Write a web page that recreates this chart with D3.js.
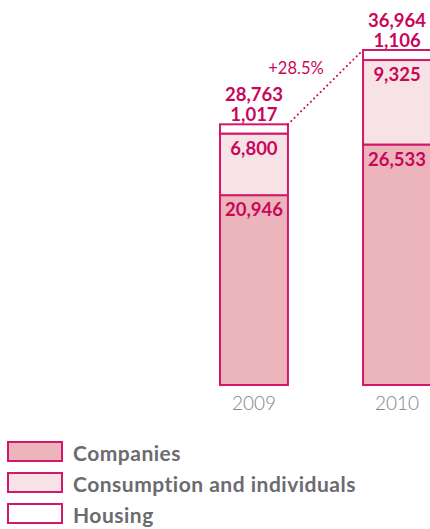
<!DOCTYPE html>
<html>
<head>
<meta charset="utf-8">
<script src="https://cdn.jsdelivr.net/npm/d3@7"></script>
<style>
  body { margin: 0; background: #fff; }
  svg { display: block; }
</style>
</head>
<body>
<div id="chart"></div>
<script>
var years = ['2009', '2010'];
var seriesNames = ['Companies', 'Consumption and individuals', 'Housing'];
var companies = [20946, 26533];
var consumption = [6800, 9325];
var housing = [1017, 1106];
var totals = [28763, 36964];
var growthLabel = '+28.5%';

var width = 430, height = 529;
var fills = ['#ecb5bc', '#f7e3e5', '#ffffff'];
var stroke = '#d3186c';
var pink = '#c8075b';

var svg = d3.select('#chart').append('svg')
  .attr('width', width)
  .attr('height', height);

var x = d3.scaleBand()
  .domain(years)
  .range([220, 431])
  .paddingInner(0.525)
  .paddingOuter(0);

var y = d3.scaleLinear()
  .domain([0, d3.max(totals)])
  .range([385, 50]);

var rows = years.map(function (yr, i) {
  return { year: yr, Companies: companies[i], 'Consumption and individuals': consumption[i], Housing: housing[i], total: totals[i] };
});
var stacked = d3.stack().keys(seriesNames)(rows);

var layers = svg.selectAll('g.layer')
  .data(stacked)
  .enter().append('g')
    .attr('class', 'layer')
    .attr('fill', function (d, i) { return fills[i]; });

layers.selectAll('rect')
  .data(function (d) { return d; })
  .enter().append('rect')
    .attr('x', function (d) { return x(d.data.year); })
    .attr('width', x.bandwidth())
    .attr('y', function (d) { return y(d[1]); })
    .attr('height', function (d) { return y(d[0]) - y(d[1]); })
    .attr('stroke', stroke)
    .attr('stroke-width', 2);

var fmt = d3.format(',');
var labelStyle = function (sel) {
  sel.attr('text-anchor', 'middle')
    .attr('fill', pink)
    .style('font-family', 'Lato, sans-serif')
    .style('font-weight', 'bold')
    .style('font-size', '18.5px');
};

// value labels inside the two lower segments
stacked.slice(0, 2).forEach(function (layer) {
  svg.append('g').selectAll('text')
    .data(layer)
    .enter().append('text')
      .attr('x', function (d) { return x(d.data.year) + x.bandwidth() / 2; })
      .attr('y', function (d) { return y(d[1]) + 21; })
      .text(function (d) { return fmt(d[1] - d[0]); })
      .call(labelStyle);
});

// housing + total above the bar
svg.append('g').selectAll('text')
  .data(rows)
  .enter().append('text')
    .attr('x', function (d) { return x(d.year) + x.bandwidth() / 2; })
    .attr('y', function (d) { return y(d.total) - 3; })
    .text(function (d) { return fmt(d.Housing); })
    .call(labelStyle);

svg.append('g').selectAll('text')
  .data(rows)
  .enter().append('text')
    .attr('x', function (d) { return x(d.year) + x.bandwidth() / 2; })
    .attr('y', function (d) { return y(d.total) - 23; })
    .text(function (d) { return fmt(d.total); })
    .call(labelStyle);

// dotted growth line
svg.append('line')
  .attr('x1', x(years[0]) + x.bandwidth())
  .attr('y1', y(totals[0]))
  .attr('x2', x(years[1]))
  .attr('y2', y(totals[1]))
  .attr('stroke', pink)
  .attr('stroke-width', 2)
  .attr('stroke-linecap', 'round')
  .attr('stroke-dasharray', '0.1 4.5');

svg.append('text')
  .attr('x', 296)
  .attr('y', 74)
  .attr('text-anchor', 'middle')
  .attr('fill', pink)
  .style('font-family', 'Lato, sans-serif')
  .style('font-size', '16.5px')
  .text(growthLabel);

// year axis
svg.append('g').selectAll('text')
  .data(years)
  .enter().append('text')
    .attr('x', function (d) { return x(d) + x.bandwidth() / 2; })
    .attr('y', 410)
    .attr('text-anchor', 'middle')
    .attr('fill', '#85858a')
    .style('font-family', 'Lato, sans-serif')
    .style('font-weight', 300)
    .style('font-size', '19px')
    .text(function (d) { return d; });

// legend
var legend = svg.append('g').selectAll('g')
  .data(seriesNames)
  .enter().append('g')
    .attr('transform', function (d, i) { return 'translate(8,' + (442 + i * 31) + ')'; });

legend.append('rect')
  .attr('width', 54)
  .attr('height', 19)
  .attr('fill', function (d, i) { return fills[i]; })
  .attr('stroke', stroke)
  .attr('stroke-width', 2);

legend.append('text')
  .attr('x', 65)
  .attr('y', 19)
  .attr('fill', '#6b6b70')
  .style('font-family', 'Lato, sans-serif')
  .style('font-weight', 'bold')
  .style('font-size', '21px')
  .style('letter-spacing', '0.5px')
  .text(function (d) { return d; });
</script>
</body>
</html>
